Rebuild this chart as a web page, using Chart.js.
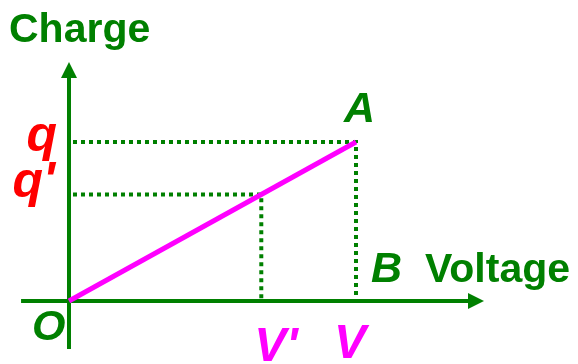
<!DOCTYPE html>
<html>
<head>
<meta charset="utf-8">
<script src="https://cdn.jsdelivr.net/npm/chart.js@4/dist/chart.umd.min.js"></script>
<style>
  html, body { margin: 0; padding: 0; background: #fff; }
  canvas { display: block; }
</style>
</head>
<body>
<canvas id="chart" width="578" height="364"></canvas>
<script>
// values (V = 10, q = 10 units)
const voltageMarks = [6.7, 10];          // V', V
const chargeMarks = [6.7, 10];           // q', q
const voltageLabels = ["V'", 'V'];
const chargeLabels = ["q'", 'q'];
const chargeLine = [{ x: 0, y: 0 }, { x: 10, y: 10 }];

const green = '#008000';
const red = '#ff0000';
const magenta = '#ff00ff';
const font = '"Liberation Sans", Arial, Helvetica, sans-serif';

// dotted guides from the axes to each point on the line
const guides = voltageMarks.map((v, i) => ({
  data: [{ x: 0, y: chargeMarks[i] }, { x: v, y: chargeMarks[i] }, { x: v, y: 0 }],
  borderColor: green,
  borderWidth: 4,
  borderDash: [4, 4],
  borderDashOffset: -4,
  pointRadius: 0,
  fill: false,
  order: 2,
}));

const axesPlugin = {
  id: 'axes',
  beforeDatasetsDraw(chart) {
    const { ctx, scales: { x, y } } = chart;
    const x0 = x.getPixelForValue(0);
    const y0 = y.getPixelForValue(0);
    const xl = x.getPixelForValue(-1.67);
    const xr = x.getPixelForValue(14.46);
    const yb = y.getPixelForValue(-3.02);
    const yt = y.getPixelForValue(15.03);
    ctx.save();
    ctx.strokeStyle = green;
    ctx.fillStyle = green;
    ctx.lineWidth = 4;
    ctx.beginPath();
    ctx.moveTo(xl, y0);
    ctx.lineTo(xr - 12, y0);
    ctx.moveTo(x0, yb);
    ctx.lineTo(x0, yt + 12);
    ctx.stroke();
    // arrow heads
    ctx.beginPath();
    ctx.moveTo(xr, y0);
    ctx.lineTo(xr - 16, y0 - 8);
    ctx.lineTo(xr - 16, y0 + 8);
    ctx.closePath();
    ctx.fill();
    ctx.beginPath();
    ctx.moveTo(x0, yt);
    ctx.lineTo(x0 - 8, yt + 16);
    ctx.lineTo(x0 + 8, yt + 16);
    ctx.closePath();
    ctx.fill();
    ctx.restore();
  },
  afterDraw(chart) {
    const { ctx, scales: { x, y } } = chart;
    const x0 = x.getPixelForValue(0);
    const y0 = y.getPixelForValue(0);
    const end = chargeLine[chargeLine.length - 1];
    const ax = x.getPixelForValue(end.x);
    const ay = y.getPixelForValue(end.y);
    ctx.save();
    ctx.textBaseline = 'alphabetic';

    ctx.fillStyle = green;
    ctx.textAlign = 'left';
    ctx.font = 'bold 41px ' + font;
    ctx.fillText('Charge', 9, 42);
    ctx.fillText('Voltage', 425, y0 - 19);

    ctx.font = 'italic bold 43px ' + font;
    ctx.fillText('A', ax - 12, ay - 20);
    ctx.fillText('B', ax + 15, y0 - 19);
    ctx.fillText('O', x0 - 37, y0 + 39);

    ctx.fillStyle = red;
    ctx.font = 'italic bold 50px ' + font;
    ctx.textAlign = 'right';
    chargeMarks.forEach((c, i) => {
      const py = y.getPixelForValue(c);
      const dy = i === 0 ? 3 : 9;
      ctx.fillText(chargeLabels[i], x0 - (i === 0 ? 14 : 12), py + dy);
    });

    ctx.fillStyle = magenta;
    ctx.font = 'italic bold 48px ' + font;
    ctx.textAlign = 'left';
    voltageMarks.forEach((v, i) => {
      const px = x.getPixelForValue(v);
      ctx.fillText(voltageLabels[i], px - (i === 0 ? 7 : 22), y0 + (i === 0 ? 60 : 57));
    });
    ctx.restore();
  },
};

new Chart(document.getElementById('chart'), {
  type: 'line',
  data: {
    datasets: [
      {
        data: chargeLine,
        borderColor: magenta,
        borderWidth: 5,
        pointRadius: 0,
        fill: false,
        order: 1,
      },
      ...guides,
    ],
  },
  options: {
    responsive: false,
    animation: false,
    events: [],
    layout: { padding: 0, autoPadding: false },
    plugins: {
      legend: { display: false },
      tooltip: { enabled: false },
    },
    scales: {
      x: { type: 'linear', display: false, min: -2.404, max: 17.735 },
      y: { type: 'linear', display: false, min: -3.962, max: 18.93 },
    },
  },
  plugins: [axesPlugin],
});
</script>
</body>
</html>
